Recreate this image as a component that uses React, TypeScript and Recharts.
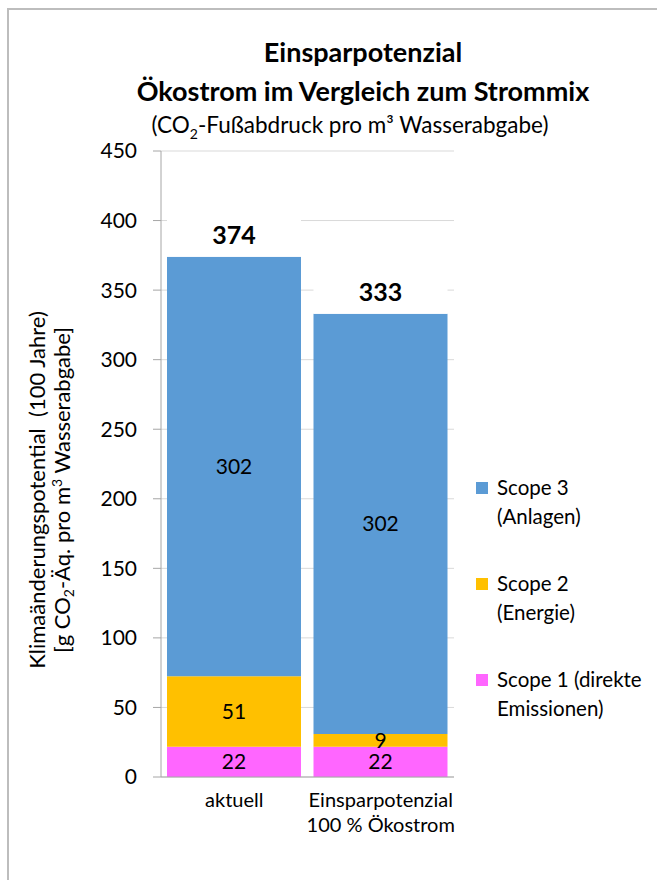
import { Bar, BarChart, CartesianGrid, LabelList, XAxis, YAxis } from 'recharts'

const categories = ['aktuell', 'Einsparpotenzial\n100 % Ökostrom']
const scope1 = [21.7, 21.7]
const scope2 = [50.8, 9.2]
const scope3 = [301.5, 302.1]
// white spacer on top of each stack, holds the total label
const labelSpace = [45, 45]
const yTicks = [0, 50, 100, 150, 200, 250, 300, 350, 400, 450]

const data = categories.map((name, i) => ({
  name,
  scope1: scope1[i],
  scope2: scope2[i],
  scope3: scope3[i],
  space: labelSpace[i],
  total: Math.round(scope1[i] + scope2[i] + scope3[i]),
}))

const legendItems = [
  { lines: ['Scope 3', '(Anlagen)'], color: '#5B9BD5' },
  { lines: ['Scope 2', '(Energie)'], color: '#FFC000' },
  { lines: ['Scope 1 (direkte', 'Emissionen)'], color: '#FF66FF' },
]

const font = 'Lato, "Open Sans", sans-serif'
const round = (v: any) => Math.round(Number(v))

function CategoryTick(props: any) {
  const { x, y, payload } = props
  const lines = String(payload.value).split('\n')
  return (
    <text x={x} y={y} textAnchor="middle" fontSize={20} fill="#000">
      {lines.map((l, i) => (
        <tspan key={i} x={x} dy={i === 0 ? 22 : 25}>
          {l}
        </tspan>
      ))}
    </text>
  )
}

function YLabel() {
  return (
    <text transform="translate(45, 490) rotate(-90)" textAnchor="middle" fontSize={22} fill="#000">
      <tspan x={0} dy={0}>Klimaänderungspotential {'\u00a0'}(100 Jahre)</tspan>
      <tspan x={0} dy={25}>[g CO</tspan>
      <tspan fontSize={14} dy={4}>2</tspan>
      <tspan dy={-4}>-Äq. pro m</tspan>
      <tspan fontSize={14} dy={-8}>3</tspan>
      <tspan dy={8}> Wasserabgabe]</tspan>
    </text>
  )
}

export default function App() {
  return (
    <div style={{ position: 'fixed', left: 0, top: 0, width: 657, height: 880, overflow: 'hidden', background: '#fff', fontFamily: font }}>
      <div style={{ position: 'absolute', left: 7, top: 8, width: 720, height: 920, border: '2px solid #BDBDBD' }} />

      <div style={{ position: 'absolute', left: 63, top: 36, width: 600, textAlign: 'center', fontSize: 27, fontWeight: 700, lineHeight: 1.2 }}>
        Einsparpotenzial
      </div>
      <div style={{ position: 'absolute', left: 63, top: 75, width: 600, textAlign: 'center', fontSize: 27, fontWeight: 700, lineHeight: 1.2 }}>
        Ökostrom im Vergleich zum Strommix
      </div>
      <div style={{ position: 'absolute', left: 50, top: 111, width: 600, textAlign: 'center', fontSize: 22.5, lineHeight: 1.2 }}>
        (CO<sub style={{ fontSize: 14 }}>2</sub>-Fußabdruck pro m³ Wasserabgabe)
      </div>

      <div style={{ position: 'absolute', left: 0, top: 0 }}>
        <BarChart width={657} height={880} data={data} margin={{ top: 151, right: 203, bottom: 43, left: 101 }} barSize={134}>
          <CartesianGrid vertical={false} stroke="#D9D9D9" />
          <XAxis
            dataKey="name"
            height={60}
            interval={0}
            axisLine={{ stroke: '#A6A6A6' }}
            tickLine={false}
            tick={<CategoryTick />}
          />
          <YAxis
            width={60}
            domain={[0, 450]}
            ticks={yTicks}
            interval={0}
            tickSize={8}
            tickMargin={16}
            axisLine={{ stroke: '#A6A6A6' }}
            tickLine={{ stroke: '#A6A6A6' }}
            tick={{ fontSize: 21, fill: '#000' }}
            label={{ content: <YLabel /> }}
          />
          <Bar dataKey="scope1" stackId="a" fill="#FF66FF" isAnimationActive={false}>
            <LabelList dataKey="scope1" position="center" formatter={round} fontSize={21} fill="#000" />
          </Bar>
          <Bar dataKey="scope2" stackId="a" fill="#FFC000" isAnimationActive={false}>
            <LabelList dataKey="scope2" position="center" formatter={round} fontSize={21} fill="#000" />
          </Bar>
          <Bar dataKey="scope3" stackId="a" fill="#5B9BD5" isAnimationActive={false}>
            <LabelList dataKey="scope3" position="center" formatter={round} fontSize={21} fill="#000" />
          </Bar>
          <Bar dataKey="space" stackId="a" fill="#FFFFFF" legendType="none" isAnimationActive={false}>
            <LabelList dataKey="total" position="insideBottom" offset={13} fontSize={25} fontWeight={700} fill="#000" />
          </Bar>
        </BarChart>
      </div>

      <div style={{ position: 'absolute', left: 476, top: 473, whiteSpace: 'nowrap', fontSize: 20.5 }}>
        {legendItems.map((it) => (
          <div key={it.lines[0]} style={{ position: 'relative', height: 58, marginBottom: 38, paddingLeft: 21, lineHeight: '29px' }}>
            <span style={{ position: 'absolute', left: 0, top: 9, width: 12, height: 12, background: it.color }} />
            {it.lines.map((l) => (
              <div key={l}>{l}</div>
            ))}
          </div>
        ))}
      </div>
    </div>
  )
}
